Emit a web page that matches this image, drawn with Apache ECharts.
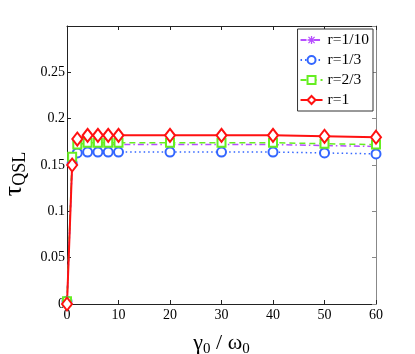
<!DOCTYPE html>
<html>
<head>
<meta charset="utf-8">
<script src="https://cdn.jsdelivr.net/npm/echarts@6/dist/echarts.min.js"></script>
<style>
  html, body { margin: 0; padding: 0; background: #fff; }
  #chart { width: 415px; height: 354px; }
</style>
</head>
<body>
<div id="chart"></div>
<script>
// x 坐标 (γ0/ω0)
const xVals = [0, 1, 2, 4, 6, 8, 10, 20, 30, 40, 50, 60];
// 各 r 对应的 τ_QSL
const r10 = [0.002, 0.152, 0.168, 0.172, 0.172, 0.172, 0.172, 0.172, 0.172, 0.172, 0.171, 0.170];
const r3 = [0.003, 0.152, 0.163, 0.164, 0.164, 0.164, 0.164, 0.164, 0.164, 0.164, 0.163, 0.162];
const r23 = [0.003, 0.159, 0.172, 0.174, 0.174, 0.174, 0.174, 0.174, 0.174, 0.174, 0.173, 0.172];
const r1 = [0.000, 0.150, 0.178, 0.182, 0.182, 0.182, 0.182, 0.182, 0.182, 0.182, 0.181, 0.180];
const names = ['r=1/10', 'r=1/3', 'r=2/3', 'r=1'];

const pts = arr => arr.map((v, i) => [xVals[i], v]);
const serif = 'Liberation Serif';
// 星号标记（四条细棒拼成）
const star = 'path://M0,4.2L10,4.2L10,5.8L0,5.8Z' +
  'M4.2,0L5.8,0L5.8,10L4.2,10Z' +
  'M0.6,1.7L1.7,0.6L9.4,8.3L8.3,9.4Z' +
  'M8.3,0.6L9.4,1.7L1.7,9.4L0.6,8.3Z';

const chart = echarts.init(document.getElementById('chart'));
chart.setOption({
  animation: false,
  grid: { left: 67, right: 39, top: 26, bottom: 50, outerBoundsMode: 'none' },
  legend: {
    orient: 'vertical',
    right: 42, top: 29,
    data: names,
    itemWidth: 22, itemHeight: 10, itemGap: 4,
    padding: [3, 4, 3, 2],
    borderColor: '#333', borderWidth: 1,
    backgroundColor: '#fff',
    textStyle: { fontFamily: serif, fontSize: 15.5, color: '#000' }
  },
  xAxis: [{
    type: 'value', min: 0, max: 60, interval: 10,
    name: '{g|γ}{s|0}{g| / ω}{s|0}',
    nameLocation: 'middle', nameGap: 26,
    nameTextStyle: { rich: {
      g: { fontFamily: serif, fontSize: 22, color: '#000' },
      s: { fontFamily: serif, fontSize: 15, color: '#000', verticalAlign: 'bottom', padding: [12, 0, 0, 0] }
    } },
    axisLine: { lineStyle: { color: '#222', width: 1 } },
    axisTick: { inside: true, length: 4, lineStyle: { color: '#222' } },
    axisLabel: { fontFamily: serif, fontSize: 14, color: '#000', margin: 4 },
    splitLine: { show: false }
  }, {
    type: 'value', min: 0, max: 60, interval: 10, position: 'top',
    axisLine: { show: true, onZero: false, lineStyle: { color: '#222' } },
    axisTick: { inside: true, length: 4, lineStyle: { color: '#222' } },
    axisLabel: { show: false }, splitLine: { show: false }
  }],
  yAxis: [{
    type: 'value', min: 0, max: 0.3, interval: 0.05,
    name: '{g|τ}{s|QSL}',
    nameLocation: 'middle', nameGap: 38, nameRotate: 90,
    nameTextStyle: { rich: {
      g: { fontFamily: serif, fontSize: 26, color: '#000' },
      s: { fontFamily: serif, fontSize: 18, color: '#000', padding: [12, 18, 0, 0] }
    } },
    axisLine: { show: true, lineStyle: { color: '#222' } },
    axisTick: { show: true, inside: true, length: 4, lineStyle: { color: '#222' } },
    axisLabel: {
      fontFamily: serif, fontSize: 14, color: '#000', margin: 2,
      formatter: v => (v > 0.29 ? '' : String(+v.toFixed(2)))
    },
    splitLine: { show: false }
  }, {
    type: 'value', min: 0, max: 0.3, interval: 0.05, position: 'right',
    axisLine: { show: true, onZero: false, lineStyle: { color: '#888' } },
    axisTick: { show: true, inside: true, length: 4, lineStyle: { color: '#888' } },
    axisLabel: { show: false }, splitLine: { show: false }
  }],
  series: [{
    name: names[0], type: 'line', data: pts(r10),
    symbol: star, symbolSize: 8,
    lineStyle: { color: '#b64dff', width: 1.5, type: [6, 3, 1.5, 3] },
    itemStyle: { color: '#b64dff' }
  }, {
    name: names[1], type: 'line', data: pts(r3),
    symbol: 'emptyCircle', symbolSize: 9,
    lineStyle: { color: '#3366ff', width: 1.5, type: [1.5, 3] },
    itemStyle: { color: '#3366ff', borderWidth: 2 }
  }, {
    name: names[2], type: 'line', data: pts(r23),
    symbol: 'emptyRect', symbolSize: 8,
    lineStyle: { color: '#66ee22', width: 1.5, type: [6, 4] },
    itemStyle: { color: '#66ee22', borderWidth: 2 }
  }, {
    name: names[3], type: 'line', data: pts(r1),
    symbol: 'emptyDiamond', symbolSize: [10, 13],
    lineStyle: { color: '#ff1111', width: 2 },
    itemStyle: { color: '#ff1111', borderWidth: 2 }
  }]
});
</script>
</body>
</html>
